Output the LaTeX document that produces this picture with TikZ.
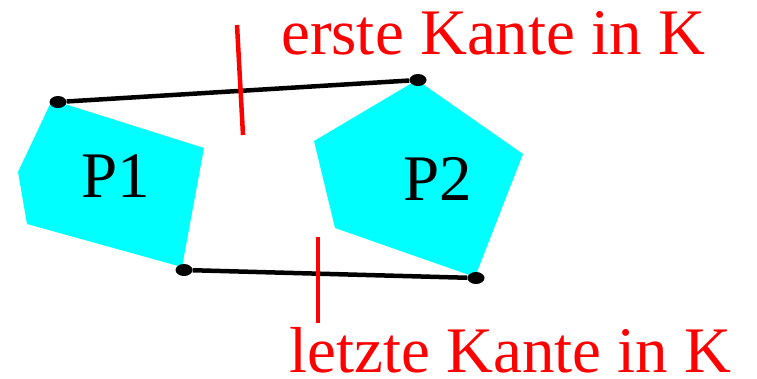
\documentclass[tikz,border=0pt]{standalone}
\usepackage{fontspec}
\setmainfont{Liberation Serif}
\usetikzlibrary{shapes.geometric}
\definecolor{tuerkis}{RGB}{0,255,255}
\definecolor{rot}{RGB}{255,0,0}

\begin{document}
\begin{tikzpicture}[x=1pt,y=-1pt,
    ecke/.style={ellipse,fill=black,inner sep=0pt,minimum width=17pt,minimum height=12pt},
    kante/.style={black,line width=4.5pt},
    marke/.style={rot,line width=4.5pt},
    gross/.style={font=\fontsize{65}{65}\selectfont,inner sep=0pt}]
    \useasboundingbox (0,0) rectangle (757,378);
    % polygone
    \fill[tuerkis] (52,100) -- (204,148) -- (182,267) -- (27,224) -- (18,172) -- cycle;
    \fill[tuerkis] (417,80) -- (523,154) -- (475,277) -- (335,228) -- (314,141) -- cycle;
    \node[gross,anchor=base] (p_1) at (116,197) {P1};
    \node[gross,anchor=base] (p_2) at (438,200) {P2};
    % kanten
    \node[ecke] (a_1) at (58,102) {};
    \node[ecke] (a_2) at (418,80) {};
    \node[ecke] (b_1) at (184,270) {};
    \node[ecke] (b_2) at (476,278) {};
    \draw[kante] (a_1) -- (a_2);
    \draw[kante] (b_1) -- (b_2);
    \coordinate (m_1) at (237,25);
    \coordinate (m_2) at (243,135);
    \coordinate (n_1) at (318,237);
    \coordinate (n_2) at (318,323);
    \draw[marke] (m_1) -- (m_2);
    \draw[marke] (n_1) -- (n_2);
    \node[gross,rot,anchor=base west] (erste) at (281,54) {erste Kante in K};
    \node[gross,rot,anchor=base west] (letzte) at (289,372) {letzte Kante in K};
\end{tikzpicture}
\end{document}
